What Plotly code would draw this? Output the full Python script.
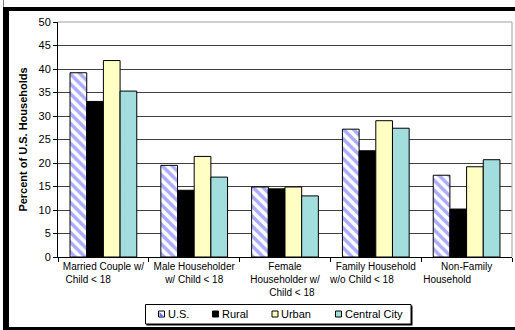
import plotly.graph_objects as go

# Household type categories (x axis) and share of households by area type
categories = [
    "Married Couple w/ Child < 18",
    "Male Householder w/ Child < 18",
    "Female Householder w/ Child < 18",
    "Family Household w/o Child < 18",
    "Non-Family Household",
]
NB = "\u00a0"
tick_labels = [
    "Married Couple w/<br>Child < 18" + NB * 11,
    "Male Householder<br>w/ Child < 18",
    "Female<br>Householder w/<br>" + NB * 5 + "Child < 18",
    "Family Household<br>w/o Child < 18" + NB * 10,
    "Non-Family<br>Household" + NB * 14,
]
series_names = ["U.S.", "Rural", "Urban", "Central City"]
us_values = [39.2, 19.5, 14.9, 27.2, 17.4]
rural_values = [33.1, 14.2, 14.5, 22.6, 10.2]
urban_values = [41.8, 21.4, 14.9, 29.0, 19.2]
central_city_values = [35.3, 17.0, 13.0, 27.4, 20.7]

y_ticks = [0, 5, 10, 15, 20, 25, 30, 35, 40, 45, 50]

W, H = 515, 330
L, R, T, B = 58, 3, 22, 73
PW, PH = W - L - R, H - T - B


def xp(px):
    return (px - L) / PW


def yp(py):
    return (H - B - py) / PH


FONT = "Liberation Sans, Arial, sans-serif"
outline = dict(color="black", width=1)
fills = ["white", "black", "#ffffc4", "#a2dede"]

fig = go.Figure()
fig.add_trace(go.Bar(
    name=series_names[0], x=categories, y=us_values,
    marker=dict(color=fills[0], line=outline,
                pattern=dict(shape="\\", fgcolor="#5a5aff", bgcolor="white",
                             size=7, solidity=0.5)),
))
for name, vals, col in zip(series_names[1:],
                           [rural_values, urban_values, central_city_values],
                           fills[1:]):
    fig.add_trace(go.Bar(name=name, x=categories, y=vals,
                         marker=dict(color=col, line=outline)))

shapes = [
    # plot-area border (top and right)
    dict(type="line", xref="paper", yref="paper", x0=0, x1=1, y0=1, y1=1,
         line=dict(color="#a0a0a0", width=1), layer="above"),
    dict(type="line", xref="paper", yref="paper", x0=1, x1=1, y0=0, y1=1,
         line=dict(color="#a0a0a0", width=1), layer="above"),
    # chart frame
    dict(type="rect", xref="paper", yref="paper", x0=xp(3), x1=xp(530),
         y0=yp(11), y1=yp(7), fillcolor="black", line=dict(width=0)),
    dict(type="rect", xref="paper", yref="paper", x0=xp(3), x1=xp(9),
         y0=yp(335), y1=yp(7), fillcolor="black", line=dict(width=0)),
    dict(type="rect", xref="paper", yref="paper", x0=xp(3), x1=xp(530),
         y0=yp(335), y1=yp(327), fillcolor="black", line=dict(width=0)),
    dict(type="line", xref="paper", yref="paper", x0=xp(3.5), x1=xp(3.5),
         y0=yp(7), y1=yp(-2), line=dict(color="#808080", width=1)),
    # legend box with a slight shadow on the bottom and right
    dict(type="rect", xref="paper", yref="paper", x0=xp(146.5), x1=xp(412.5),
         y0=yp(325.5), y1=yp(305.5), fillcolor="black", line=dict(width=0)),
    dict(type="rect", xref="paper", yref="paper", x0=xp(145.5), x1=xp(411),
         y0=yp(324), y1=yp(304.5), fillcolor="white",
         line=dict(color="black", width=1)),
]

annotations = []
swatch_x = [158.5, 212.5, 272, 335.5]
sw = 6
sy0, sy1 = 311, 317
for i, (name, sx) in enumerate(zip(series_names, swatch_x)):
    shapes.append(dict(type="rect", xref="paper", yref="paper",
                       x0=xp(sx), x1=xp(sx + sw), y0=yp(sy1), y1=yp(sy0),
                       fillcolor=fills[i], line=dict(color="black", width=1)))
    if i == 0:
        shapes.append(dict(
            type="path", xref="paper", yref="paper",
            path=(f"M {xp(sx + 1)} {yp(sy0 + 1)} L {xp(sx + 1)} {yp(sy1)} "
                  f"L {xp(sx + sw)} {yp(sy1)} Z"),
            fillcolor="#6a6aff", line=dict(width=0)))
    annotations.append(dict(
        text=name, xref="paper", yref="paper", x=xp(sx + sw + 1),
        y=yp(314), xanchor="left", yanchor="middle", showarrow=False,
        font=dict(size=11, family=FONT, color="black")))

fig.update_layout(
    width=W, height=H,
    margin=dict(l=L, r=R, t=T, b=B, autoexpand=False),
    paper_bgcolor="white", plot_bgcolor="white",
    barmode="group", bargap=0.265, bargroupgap=0,
    font=dict(family=FONT, size=10, color="black"),
    showlegend=False,
    shapes=shapes,
    annotations=annotations,
)
fig.update_xaxes(
    tickvals=categories, ticktext=tick_labels,
    showline=True, linecolor="black", linewidth=1,
    ticks="outside", ticklen=4, tickcolor="black", tickson="boundaries",
    tickangle=0, showgrid=False, fixedrange=True, automargin=False,
)
fig.update_yaxes(
    range=[0, 50], tickvals=y_ticks, showline=True, linecolor="black",
    linewidth=1, ticks="outside", ticklen=4, tickcolor="black",
    showgrid=True, gridcolor="#404040", gridwidth=1, zeroline=False,
    tickfont=dict(size=11), automargin=False,
    title=dict(text="<b>Percent of U.S. Households</b>", standoff=8,
               font=dict(size=11)),
)

fig.write_html("out.html")
